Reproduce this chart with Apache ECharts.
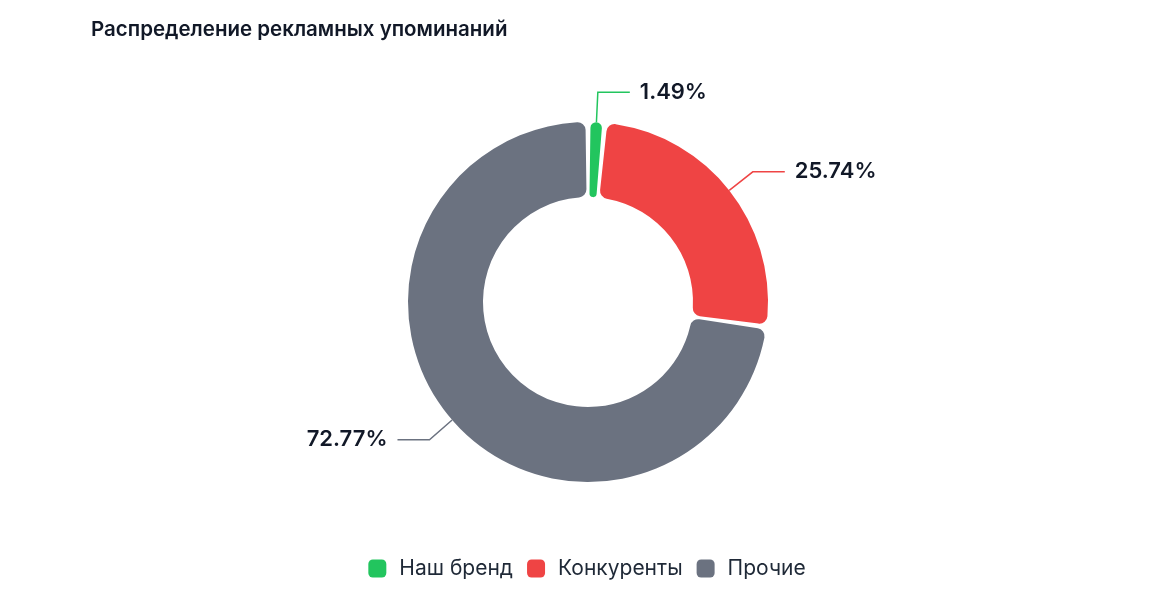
<!DOCTYPE html>
<html><head><meta charset="utf-8">
<style>html,body{margin:0;padding:0;background:#fff}#c{width:1174px;height:596px}</style>
<script src="https://cdn.jsdelivr.net/npm/echarts@6/dist/echarts.min.js"></script>
</head><body><div id="c"></div>
<script>
const categories = ['Наш бренд', 'Конкуренты', 'Прочие'];
const values = [1.49, 25.74, 72.77];
const colors = ['#22c55e', '#ef4444', '#6b7280'];

const chart = echarts.init(document.getElementById('c'));
chart.setOption({
  animation: false,
  title: {
    text: 'Распределение рекламных упоминаний',
    left: 86, top: 14,
    textStyle: { fontFamily: 'Inter', fontSize: 20.5, fontWeight: 600, color: '#111827' }
  },
  legend: {
    bottom: 12, left: 'center',
    itemWidth: 18, itemHeight: 18, itemGap: 14,
    icon: 'roundRect',
    textStyle: { fontFamily: 'Inter', fontSize: 21, color: '#1f2937', padding: [0, 0, 0, 8] },
    data: categories
  },
  series: [{
    type: 'pie',
    center: [588, 302],
    radius: [105, 180],
    startAngle: 90,
    padAngle: 1.6,
    itemStyle: { borderRadius: 8 },
    label: {
      show: true,
      formatter: '{d}%',
      distanceToLabelLine: 10,
      fontFamily: 'Inter', fontSize: 22, fontWeight: 600, color: '#111827'
    },
    labelLine: { show: true, length: 30, length2: 32, lineStyle: { width: 1.5 } },
    data: categories.map((n, i) => ({ name: n, value: values[i], itemStyle: { color: colors[i] } }))
  }]
});
</script></body></html>
